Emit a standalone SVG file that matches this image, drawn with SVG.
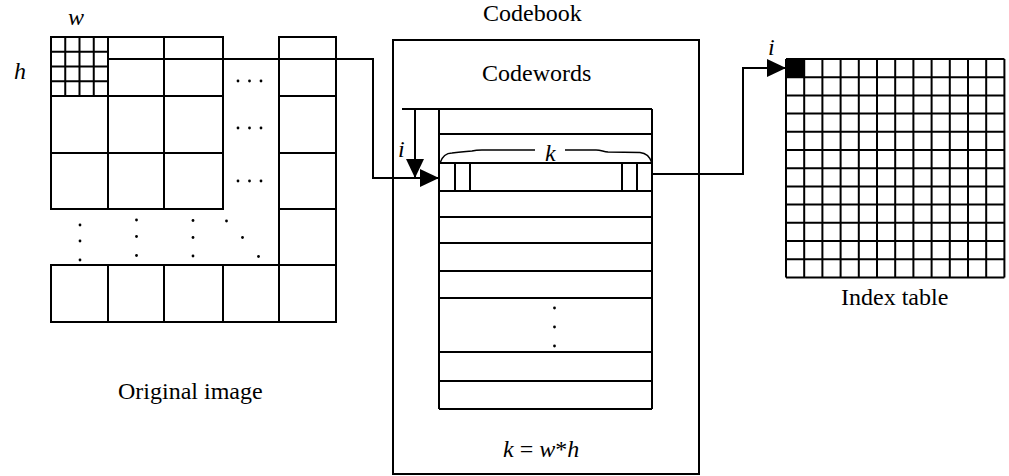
<svg xmlns="http://www.w3.org/2000/svg" width="1009" height="476" viewBox="0 0 1009 476">
  <style>
    .ln { stroke: #000; stroke-width: 2; fill: none; }
    .thin { stroke: #000; stroke-width: 1.5; fill: none; }
    .txt { font-family: "Liberation Serif", "Times New Roman", serif; font-size: 24px; fill: #000; }
    .it { font-style: italic; }
    .dot { fill: #000; }
  </style>
  <defs>
    <marker id="arrow" markerUnits="userSpaceOnUse" markerWidth="19" markerHeight="18" refX="19" refY="9" orient="auto">
      <path d="M0,0 L19,9 L0,18 Z" fill="#000"/>
    </marker>
  </defs>

  <!-- Source image split into w*h blocks -->
  <g id="original-image">
    <!-- first block subdivided into pixels -->
    <path class="ln" d="M65.25,37 V96 M79.5,37 V96 M93.75,37 V96 M51,51.75 H108 M51,66.5 H108 M51,81.25 H108"/>
    <!-- top three block rows -->
    <rect class="ln" x="51" y="37" width="57" height="59"/>
    <rect class="ln" x="108" y="37" width="56" height="59"/>
    <rect class="ln" x="164" y="37" width="59" height="59"/>
    <rect class="ln" x="51" y="96" width="57" height="57"/>
    <rect class="ln" x="108" y="96" width="56" height="57"/>
    <rect class="ln" x="164" y="96" width="59" height="57"/>
    <rect class="ln" x="51" y="153" width="57" height="56"/>
    <rect class="ln" x="108" y="153" width="56" height="56"/>
    <rect class="ln" x="164" y="153" width="59" height="56"/>
    <!-- last block column -->
    <rect class="ln" x="279" y="37" width="57" height="59"/>
    <rect class="ln" x="279" y="96" width="57" height="57"/>
    <rect class="ln" x="279" y="153" width="57" height="56"/>
    <rect class="ln" x="279" y="209" width="57" height="56"/>
    <!-- last block row -->
    <rect class="ln" x="51" y="265" width="57" height="57"/>
    <rect class="ln" x="108" y="265" width="56" height="57"/>
    <rect class="ln" x="164" y="265" width="59" height="57"/>
    <rect class="ln" x="223" y="265" width="56" height="57"/>
    <rect class="ln" x="279" y="265" width="57" height="57"/>
    <!-- ellipses -->
    <circle class="dot" cx="238" cy="81" r="1.4"/><circle class="dot" cx="249.5" cy="81" r="1.4"/><circle class="dot" cx="261" cy="81" r="1.4"/>
    <circle class="dot" cx="238" cy="128" r="1.4"/><circle class="dot" cx="249.5" cy="128" r="1.4"/><circle class="dot" cx="261" cy="128" r="1.4"/>
    <circle class="dot" cx="238" cy="181" r="1.4"/><circle class="dot" cx="249.5" cy="181" r="1.4"/><circle class="dot" cx="261" cy="181" r="1.4"/>
    <circle class="dot" cx="80" cy="225" r="1.4"/><circle class="dot" cx="80" cy="241" r="1.4"/><circle class="dot" cx="80" cy="260" r="1.4"/>
    <circle class="dot" cx="136.5" cy="220" r="1.4"/><circle class="dot" cx="136.5" cy="236.5" r="1.4"/><circle class="dot" cx="136.5" cy="255.5" r="1.4"/>
    <circle class="dot" cx="193" cy="220.5" r="1.4"/><circle class="dot" cx="193" cy="237.5" r="1.4"/><circle class="dot" cx="193" cy="256" r="1.4"/>
    <circle class="dot" cx="226.5" cy="221" r="1.4"/><circle class="dot" cx="242.5" cy="237.5" r="1.4"/><circle class="dot" cx="258.5" cy="256.5" r="1.4"/>
    <text class="txt it" x="68" y="25">w</text>
    <text class="txt it" x="14" y="79">h</text>
    <text class="txt" x="118" y="399">Original image</text>
  </g>

  <!-- Codebook holding the codeword table -->
  <g id="codebook">
    <rect class="ln" x="393" y="40" width="306" height="434"/>
    <text class="txt" x="483" y="21">Codebook</text>
    <text class="txt" x="482" y="81">Codewords</text>
    <path class="ln" d="M402,109 H652 M439,109 V409 M652,109 V409"/>
    <path class="ln" d="M439,134 H652 M439,163 H652 M439,191 H652 M439,217 H652 M439,243 H652 M439,271 H652 M439,298 H652 M439,352 H652 M439,381 H652 M439,409 H652"/>
    <!-- first and last elements of the selected codeword -->
    <path class="ln" d="M455,163 V191 M470,163 V191 M622,163 V191 M637,163 V191"/>
    <!-- brace spanning one codeword -->
    <path class="thin" d="M440,163 C442,157 446,153 452,153 C460,152 466,151.5 472,151 C476,150 478,150 482,150 L535,150 M565,150 L596,150 C601,150 603,151.5 608,152 L640,152.5 C646,153 650,157 652,163"/>
    <text class="txt it" x="545" y="161">k</text>
    <circle class="dot" cx="554.5" cy="308" r="1.4"/><circle class="dot" cx="554.5" cy="327" r="1.4"/><circle class="dot" cx="554.5" cy="346" r="1.4"/>
    <text class="txt" x="503" y="457"><tspan class="it">k</tspan> = <tspan class="it">w</tspan>*<tspan class="it">h</tspan></text>
  </g>

  <!-- Index table -->
  <g id="index-table">
    <rect x="786" y="59" width="18.2" height="18.2" fill="#000"/>
    <path class="ln" d="M786,59 V277.4 M804.2,59 V277.4 M822.4,59 V277.4 M840.6,59 V277.4 M858.8,59 V277.4 M877,59 V277.4 M895.2,59 V277.4 M913.4,59 V277.4 M931.6,59 V277.4 M949.8,59 V277.4 M968,59 V277.4 M986.2,59 V277.4 M1004.4,59 V277.4"/>
    <path class="ln" d="M786,59 H1004.4 M786,77.2 H1004.4 M786,95.4 H1004.4 M786,113.6 H1004.4 M786,131.8 H1004.4 M786,150 H1004.4 M786,168.2 H1004.4 M786,186.4 H1004.4 M786,204.6 H1004.4 M786,222.8 H1004.4 M786,241 H1004.4 M786,259.2 H1004.4 M786,277.4 H1004.4"/>
    <text class="txt it" x="768" y="55">i</text>
    <text class="txt" x="841" y="305">Index table</text>
  </g>

  <!-- Connectors -->
  <g id="connectors">
    <path class="ln" d="M108,59 H373 V178 H439" marker-end="url(#arrow)"/>
    <path class="ln" d="M415,109 V178" marker-end="url(#arrow)"/>
    <text class="txt it" x="398" y="157">i</text>
    <path class="ln" d="M652,174 H743 V68 H786" marker-end="url(#arrow)"/>
  </g>
</svg>
